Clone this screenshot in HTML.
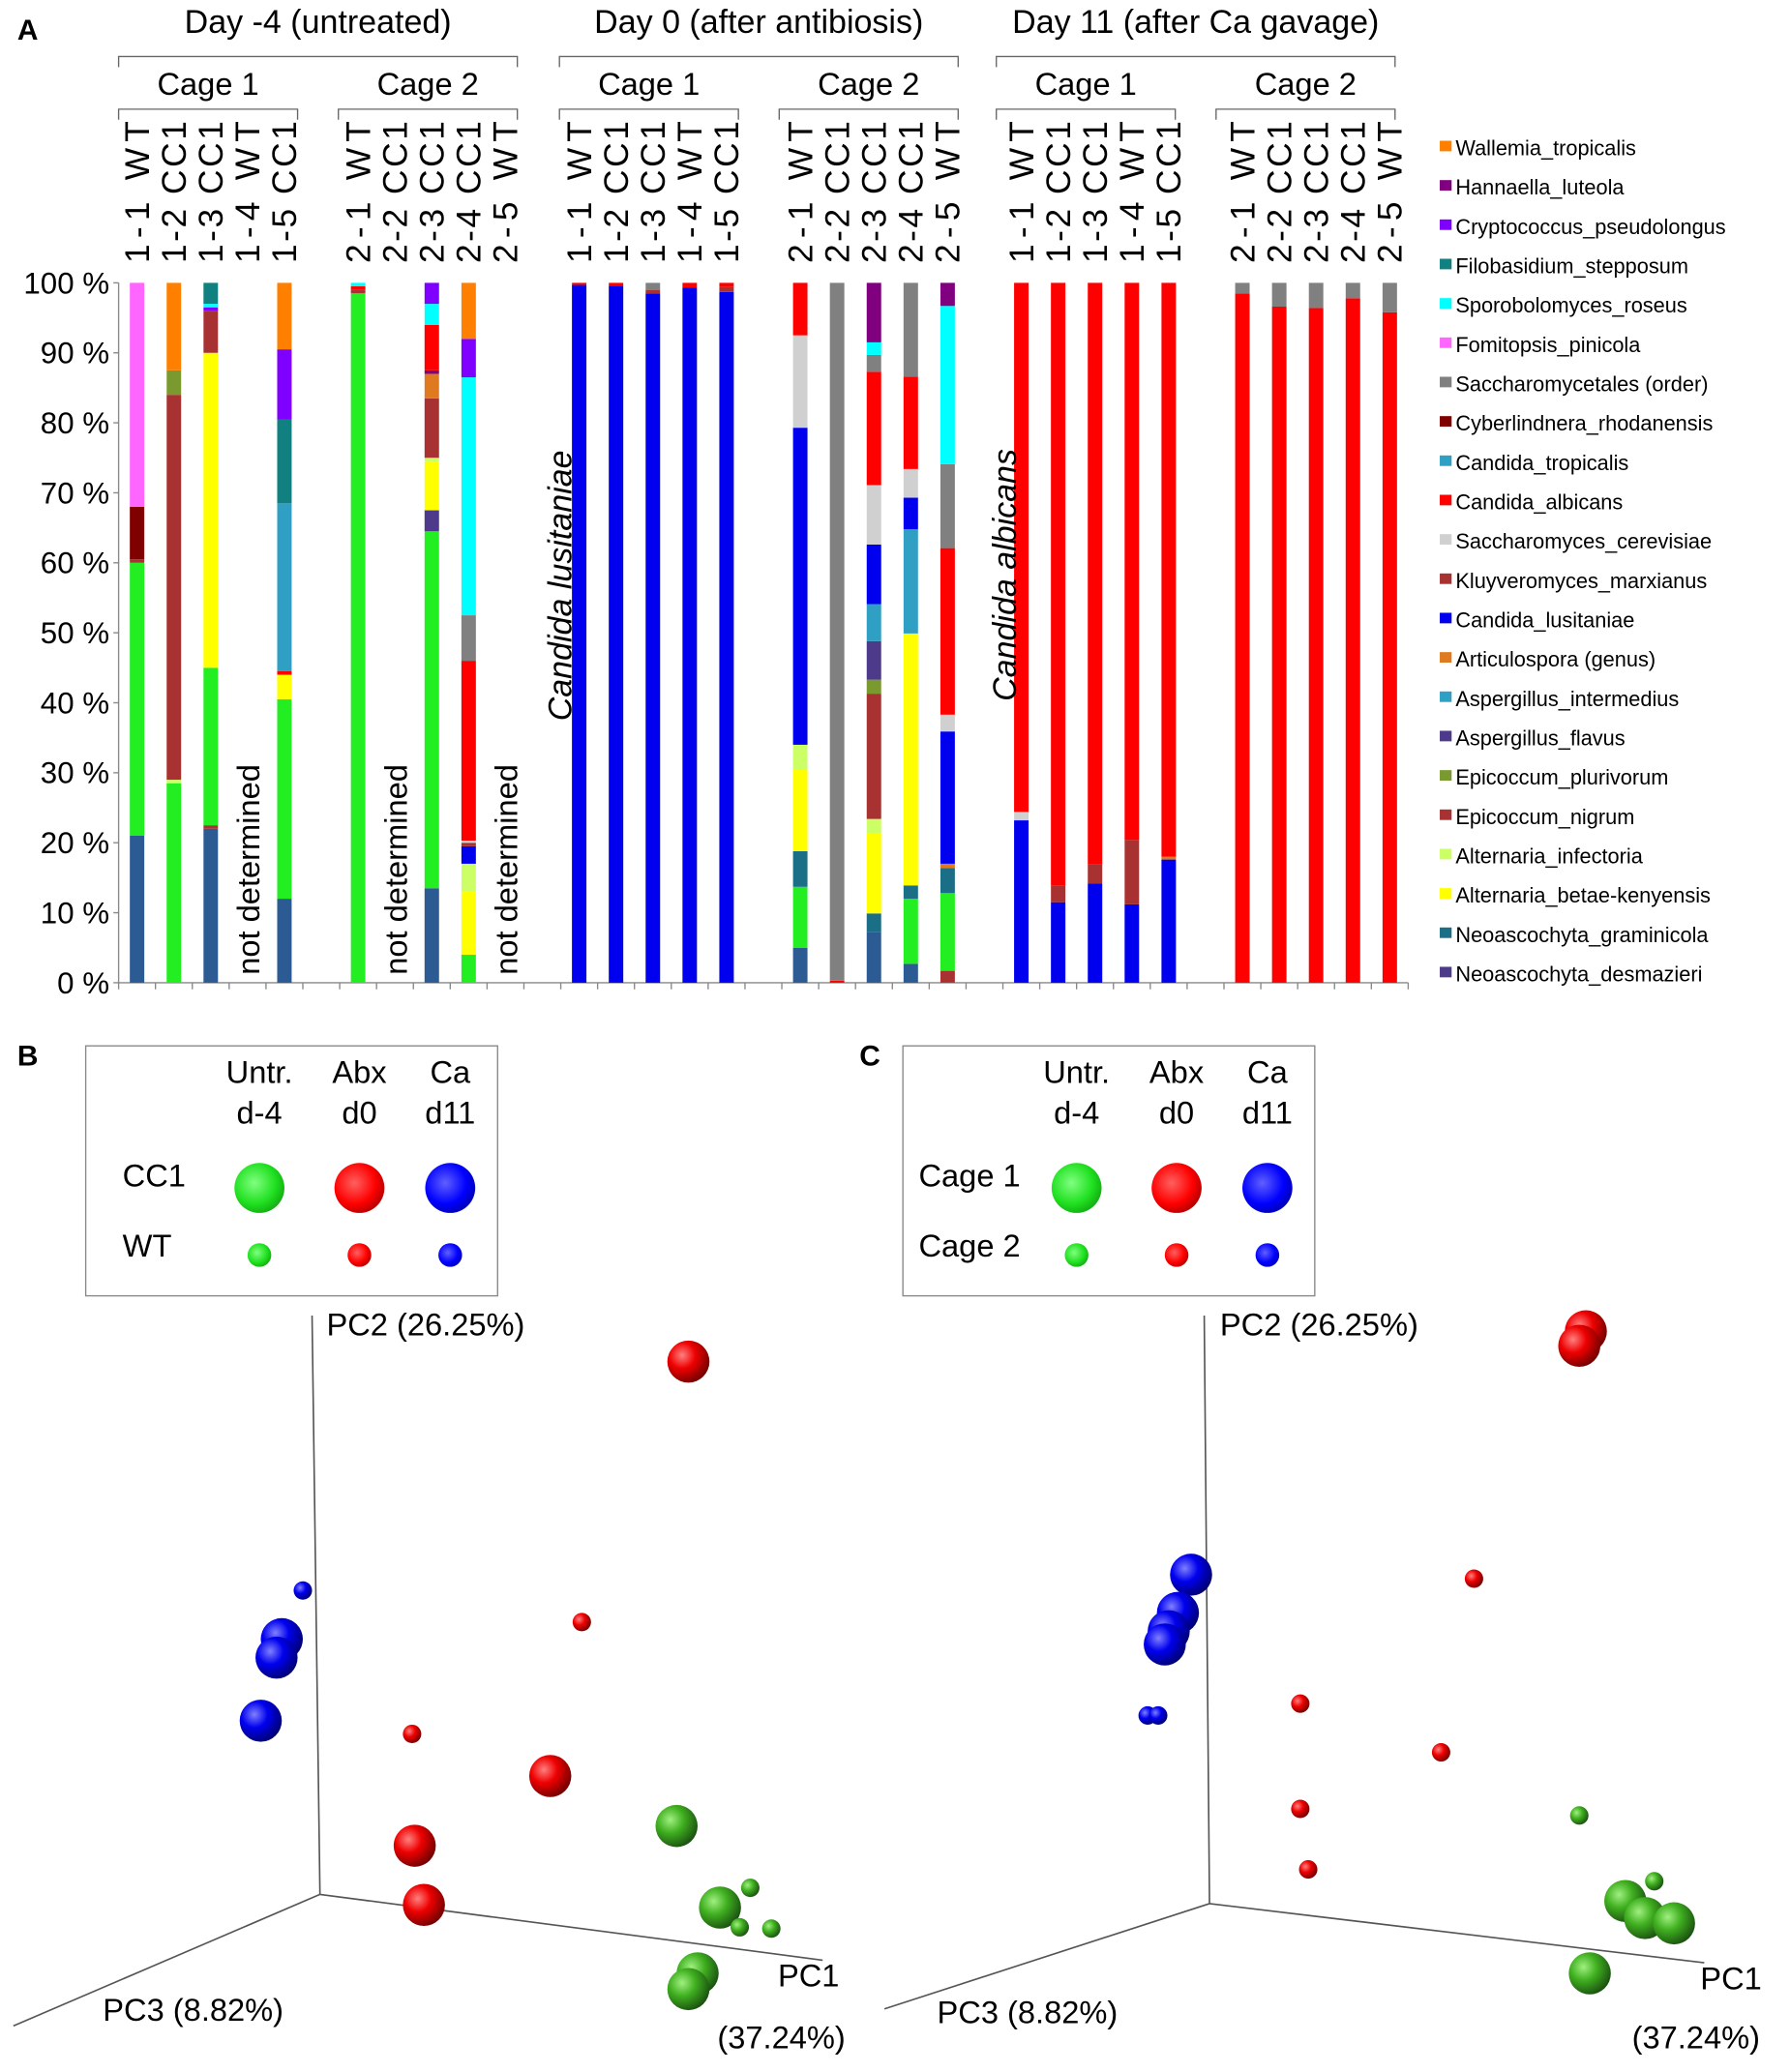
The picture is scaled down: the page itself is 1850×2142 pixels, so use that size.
<!DOCTYPE html>
<html><head><meta charset="utf-8"><style>
html,body{margin:0;padding:0;background:#fff}
svg{display:block;font-family:"Liberation Sans",Arial,sans-serif}
</style></head><body>
<svg id="fig" width="1850" height="2142" viewBox="0 0 1360 1575" xmlns="http://www.w3.org/2000/svg">
<defs>
<radialGradient id="gr" cx="0.35" cy="0.35" r="0.7"><stop offset="0" stop-color="#ff8080"/><stop offset="0.45" stop-color="#ee0000"/><stop offset="1" stop-color="#700000"/></radialGradient>
<radialGradient id="gb" cx="0.35" cy="0.35" r="0.7"><stop offset="0" stop-color="#8080ff"/><stop offset="0.45" stop-color="#0000ee"/><stop offset="1" stop-color="#000070"/></radialGradient>
<radialGradient id="gg" cx="0.35" cy="0.35" r="0.7"><stop offset="0" stop-color="#a0f080"/><stop offset="0.45" stop-color="#40b020"/><stop offset="1" stop-color="#1a5010"/></radialGradient>
<radialGradient id="lr" cx="0.4" cy="0.4" r="0.7"><stop offset="0" stop-color="#ff6060"/><stop offset="0.6" stop-color="#ff0000"/><stop offset="1" stop-color="#a00000"/></radialGradient>
<radialGradient id="lb" cx="0.4" cy="0.4" r="0.7"><stop offset="0" stop-color="#6060ff"/><stop offset="0.6" stop-color="#0000ff"/><stop offset="1" stop-color="#0000a0"/></radialGradient>
<radialGradient id="lg" cx="0.4" cy="0.4" r="0.7"><stop offset="0" stop-color="#80ff80"/><stop offset="0.6" stop-color="#20e020"/><stop offset="1" stop-color="#10a010"/></radialGradient>
</defs>
<g id="barChart"></g>
<g id="pcaB"></g>
<g id="pcaC"></g>
</svg>
<script>
const C={blu:"#2c5a92",grn:"#22ee22",tea:"#1a6e86",yel:"#ffff00",ltg:"#ccff66",kly:"#a83232",oli:"#7a9a30",fla:"#4e3a8a",tro:"#2f9fc4",art:"#e07a20",lus:"#0000ee",cer:"#d0d0d0",alb:"#ff0000",cyb:"#800000",sac:"#808080",fom:"#ff66ff",spo:"#00ffff",fil:"#108080",cry:"#8000ff",han:"#800080",wal:"#ff8000"};
const sampleLabels=["1-1  WT","1-2  CC1","1-3  CC1","1-4  WT","1-5  CC1","2-1  WT","2-2  CC1","2-3  CC1","2-4  CC1","2-5  WT"];
const slotIndex=[0,1,2,3,4,6,7,8,9,10,12,13,14,15,16,18,19,20,21,22,24,25,26,27,28,30,31,32,33,34];
const segColors=[
["blu","grn","kly","cyb","fom"],["grn","ltg","kly","oli","wal"],["blu","kly","grn","yel","kly","cry","spo","fil"],[],["blu","grn","yel","alb","tro","fil","cry","wal"],
["grn","kly","alb","spo"],[],["blu","grn","fla","yel","ltg","kly","art","han","alb","spo","cry"],["grn","yel","ltg","lus","kly","cer","alb","sac","spo","cry","wal"],[],
["lus","alb"],["lus","alb"],["lus","kly","sac"],["lus","alb"],["lus","kly","alb"],
["blu","grn","tea","yel","ltg","lus","cer","alb"],["alb","sac"],["blu","tea","yel","ltg","kly","oli","fla","tro","lus","cer","alb","sac","spo","han"],["blu","grn","tea","yel","tro","lus","cer","alb","sac"],["kly","grn","tea","art","lus","cer","alb","sac","spo","han"],
["lus","cer","alb"],["lus","kly","alb"],["lus","kly","alb"],["lus","kly","alb"],["lus","art","alb"],
["alb","sac"],["alb","sac"],["alb","sac"],["alb","sac"],["alb","sac"]];
const segValues=[
[21,39,0.5,7.5,32],[28.5,0.5,55,3.5,12.5],[22,0.5,22.5,45,6,0.5,0.5,3],[],[12,28.5,3.5,0.5,24,12,10,9.5],
[98.5,0.5,0.5,0.5],[],[13.5,51,3,7,0.5,8.5,3.5,0.5,6.5,3,3],[4,9,4,2.5,0.5,0.3,25.7,6.5,34,5.5,8],[],
[99.7,0.3],[99.6,0.4],[98.5,0.5,1],[99.3,0.7],[98.7,0.7,0.6],
[5,8.7,5.1,11.6,3.6,45.3,13.2,7.5],[0.3,99.7],[7.2,2.7,11.5,2,17.9,2,5.5,5.3,8.5,8.5,16.2,2.4,1.8,8.5],[2.7,9.3,1.9,36,14.9,4.5,4.1,13.2,13.4],[1.7,11.1,3.6,0.6,18.9,2.4,23.8,12,22.6,3.3],
[23.2,1.2,75.6],[11.5,2.4,86.1],[14.2,2.7,83.1],[11.2,9.2,79.6],[17.6,0.4,82],
[98.5,1.5],[96.6,3.4],[96.4,3.6],[97.8,2.2],[95.8,4.2]];
const yTicks=[0,10,20,30,40,50,60,70,80,90,100];
const legendNames=["Wallemia_tropicalis","Hannaella_luteola","Cryptococcus_pseudolongus","Filobasidium_stepposum","Sporobolomyces_roseus","Fomitopsis_pinicola","Saccharomycetales  (order)","Cyberlindnera_rhodanensis","Candida_tropicalis","Candida_albicans","Saccharomyces_cerevisiae","Kluyveromyces_marxianus","Candida_lusitaniae","Articulospora (genus)","Aspergillus_intermedius","Aspergillus_flavus","Epicoccum_plurivorum","Epicoccum_nigrum","Alternaria_infectoria","Alternaria_betae-kenyensis","Neoascochyta_graminicola","Neoascochyta_desmazieri"];
const legendKeys=["wal","han","cry","fil","spo","fom","sac","cyb","tro","alb","cer","kly","lus","art","tro","fla","oli","kly","ltg","yel","tea","fla"];
const pcaBx=[523,418,315,322,442,313,214,210,198,230,514,547,530,523,570,586,562];
const pcaBy=[1035,1350,1403,1448,1233,1318,1246,1260,1308,1209,1388,1450,1500,1512,1435,1466,1465];
const pcaBbig=[1,1,1,1,0,0,1,1,1,0,1,1,1,1,0,0,0];
const pcaBgrp=["r","r","r","r","r","r","b","b","b","b","g","g","g","g","g","g","g"];
const pcaCx=[1205,1200,1120,988,1095,988,994,905,895,888,885,872,880,1235,1250,1272,1208,1200,1257];
const pcaCy=[1012,1023,1200,1295,1332,1375,1421,1197,1226,1240,1250,1304,1304,1445,1458,1462,1500,1380,1430];
const pcaCbig=[1,1,0,0,0,0,0,1,1,1,1,0,0,1,1,1,1,0,0];
const pcaCgrp=["r","r","r","r","r","r","r","b","b","b","b","b","b","g","g","g","g","g","g"];

const NS="http://www.w3.org/2000/svg";
function mk(p,tag,at,txt){const e=document.createElementNS(NS,tag);for(const k in at)e.setAttribute(k,at[k]);if(txt!==undefined)e.textContent=txt;p.appendChild(e);return e;}
const yS=v=>747-5.32*v;
const xS=i=>104+28*i;
const bc=document.getElementById('barChart');
let t=mk(bc,'text',{x:13,y:30,'font-size':22,'font-weight':'bold'},'A');

let ax=mk(bc,'line',{x1:90,y1:yS(100),x2:90,y2:747,stroke:'#888'});

ax=mk(bc,'line',{x1:90,y1:747,x2:1070,y2:747,stroke:'#888'});

for(let i=0;i<=35;i++){const tk=mk(bc,'line',{x1:90+28*i,y1:747,x2:90+28*i,y2:752,stroke:'#888'});}
yTicks.forEach(v=>{const l=mk(bc,'text',{x:83,y:yS(v)+8,'font-size':23,'text-anchor':'end'},v+' %');
const tk=mk(bc,'line',{x1:86,y1:yS(v),x2:90,y2:yS(v),stroke:'#888'});});
segValues.forEach((segs,b)=>{const cx=xS(slotIndex[b]);let acc=0;
 const g=mk(bc,'g',{});
 segs.forEach((v,k)=>{const r=mk(g,'rect',{x:cx-5.5,y:yS(acc+v),width:11,height:Math.max(0.01,yS(acc)-yS(acc+v)),fill:C[segColors[b][k]]});acc+=v;});
 const lb=mk(bc,'text',{transform:`translate(${cx+9},200) rotate(-90)`,'font-size':26,textLength:108,lengthAdjust:'spacing'},sampleLabels[b%10]);
});
[3,7,10].forEach(i=>{const cx=xS(i);const l=mk(bc,'text',{transform:`translate(${cx+9},741) rotate(-90)`,'font-size':24},'not determined');});
let it=mk(bc,'text',{transform:'translate(434,548) rotate(-90)','font-size':25,'font-style':'italic'},'Candida lusitaniae');
it=mk(bc,'text',{transform:'translate(772,533) rotate(-90)','font-size':25,'font-style':'italic'},'Candida albicans');
const days=[["Day -4 (untreated)",90,393],["Day 0 (after antibiosis)",425,728],["Day 11 (after Ca gavage)",757,1060]];
days.forEach(d=>{const h=mk(bc,'text',{x:(d[1]+d[2])/2,y:25,'font-size':25,'text-anchor':'middle'},d[0]);
 const p=mk(bc,'path',{d:`M${d[1]},51V43H${d[2]}V51`,fill:'none',stroke:'#666'});
 [[d[1],d[1]+136,'Cage 1'],[d[2]-136,d[2],'Cage 2']].forEach(c=>{const q=mk(bc,'text',{x:(c[0]+c[1])/2,y:72,'font-size':24,'text-anchor':'middle'},c[2]);
  const pp=mk(bc,'path',{d:`M${c[0]},91V83H${c[1]}V91`,fill:'none',stroke:'#666'});});
});
legendNames.forEach((n,i)=>{const y=113+29.9*i;const g=mk(bc,'g',{});
 mk(g,'rect',{x:1094,y:y-6,width:9,height:8,fill:C[legendKeys[i]]});mk(g,'text',{x:1106,y:y+5,'font-size':16},n);});

function pca(id,letter,lx,rows,box,axes,labels,xs,ys,bigs,grps){
 const p=document.getElementById(id);
 let tt=mk(p,'text',{x:lx,y:810,'font-size':22,'font-weight':'bold'},letter);
 const lg=mk(p,'g',{});
 mk(lg,'rect',{x:box,y:795,width:313,height:190,fill:'#fff',stroke:'#888'});
 const cols=[[box+132,'Untr.','d-4','lg'],[box+208,'Abx','d0','lr'],[box+277,'Ca','d11','lb']];
 cols.forEach(c=>{mk(lg,'text',{x:c[0],y:823,'font-size':24,'text-anchor':'middle'},c[1]);mk(lg,'text',{x:c[0],y:854,'font-size':24,'text-anchor':'middle'},c[2]);
  mk(lg,'circle',{cx:c[0],cy:903,r:19,fill:'url(#'+c[3]+')'});mk(lg,'circle',{cx:c[0],cy:954,r:9,fill:'url(#'+c[3]+')'});});
 mk(lg,'text',{x:box+rows[2],y:902,'font-size':24},rows[0]);mk(lg,'text',{x:box+rows[2],y:955,'font-size':24},rows[1]);
 const o=axes[0];
 [axes[1],axes[2],axes[3]].forEach((e,k)=>{const l=mk(p,'line',{x1:o[0],y1:o[1],x2:e[0],y2:e[1],stroke:'#555','stroke-width':1.2});});
 labels.forEach(L=>{const q=mk(p,'text',{x:L[1],y:L[2],'font-size':24},L[0]);});
 const gmap={r:'gr',b:'gb',g:'gg'};
 xs.forEach((x,i)=>{const r=bigs[i]?16:7;const c=mk(p,'circle',{cx:x,cy:ys[i],r:r,fill:'url(#'+gmap[grps[i]]+')'});});
}
pca('pcaB','B',13,['CC1','WT',28],65,[[243,1440],[237,1000],[625,1490],[10,1540]],[['PC2 (26.25%)',248,1015],['PC3 (8.82%)',78,1536],['PC1',591,1510],['(37.24%)',545,1557]],pcaBx,pcaBy,pcaBbig,pcaBgrp);
pca('pcaC','C',653,['Cage 1','Cage 2',12],686,[[919,1447],[915,1000],[1295,1492],[672,1527]],[['PC2 (26.25%)',927,1015],['PC3 (8.82%)',712,1538],['PC1',1292,1512],['(37.24%)',1240,1557]],pcaCx,pcaCy,pcaCbig,pcaCgrp);
</script>
</body></html>
